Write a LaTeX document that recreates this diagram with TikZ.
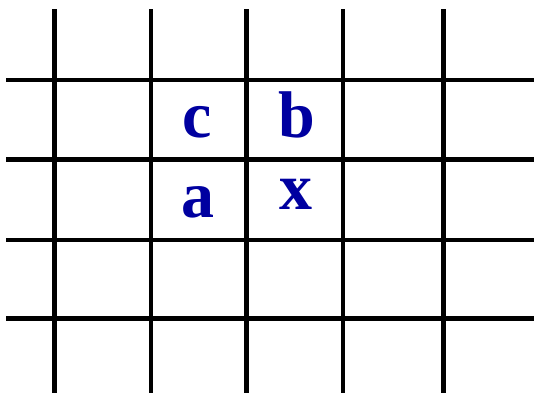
\documentclass[tikz,border=0pt]{standalone}
\usepackage{fontspec}
\setmainfont{Liberation Serif}
\definecolor{letterblue}{RGB}{0,0,160}
\begin{document}
\begin{tikzpicture}[x=1pt,y=-1pt,
  gridline/.style={line width=4.5pt,black},
  letter/.style={anchor=base,inner sep=0pt,text=letterblue,font=\fontsize{66}{66}\selectfont\bfseries}]
\useasboundingbox (0,0) rectangle (534,394);
% vertical lines
\foreach \x [count=\i] in {54.5,151,246.5,343,443.5}{
  \coordinate (vt\i) at (\x,9);
  \coordinate (vb\i) at (\x,393);
  \draw[gridline] (vt\i) -- (vb\i);
}
% horizontal lines
\foreach \y [count=\i] in {80,159.5,240,318.5}{
  \coordinate (hl\i) at (6,\y);
  \coordinate (hr\i) at (534,\y);
  \draw[gridline] (hl\i) -- (hr\i);
}
\node[letter] (c) at (197,137) {c};
\node[letter] (b) at (296.5,137) {b};
\node[letter] (a) at (198,217) {a};
\node[letter] (x) at (296,209) {x};
\end{tikzpicture}
\end{document}
